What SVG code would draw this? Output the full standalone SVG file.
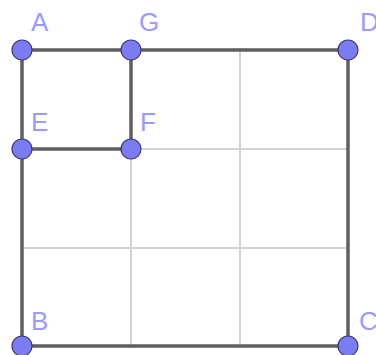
<svg xmlns="http://www.w3.org/2000/svg" width="376" height="355" viewBox="0 0 376 355">
<style>
.grid{stroke:#d3d3d3;stroke-width:2;fill:none}
.edge{stroke:#5f5f5f;stroke-width:3.5;fill:none;stroke-linecap:round}
.pt{fill:#7b7bf2;stroke:#3a3a7a;stroke-width:1.2}
.lbl{font-family:"Liberation Sans",Arial,sans-serif;font-size:26px;fill:#9a9aff}
</style>
<rect width="376" height="355" fill="#fff"/>
<g id="grid">
<line class="grid" x1="131" y1="50" x2="131" y2="346"/>
<line class="grid" x1="240" y1="50" x2="240" y2="346"/>
<line class="grid" x1="22" y1="149" x2="348" y2="149"/>
<line class="grid" x1="22" y1="248" x2="348" y2="248"/>
</g>
<g id="connectors">
<line class="edge" x1="22" y1="50" x2="348" y2="50"/>
<line class="edge" x1="22" y1="50" x2="22" y2="346"/>
<line class="edge" x1="22" y1="346" x2="348" y2="346"/>
<line class="edge" x1="348" y1="50" x2="348" y2="346"/>
<line class="edge" x1="131" y1="50" x2="131" y2="149"/>
<line class="edge" x1="22" y1="149" x2="131" y2="149"/>
</g>
<g id="A"><circle class="pt" cx="22" cy="50" r="10"/><text class="lbl" x="31" y="31">A</text></g>
<g id="G"><circle class="pt" cx="131" cy="50" r="10"/><text class="lbl" x="139" y="31">G</text></g>
<g id="D"><circle class="pt" cx="348" cy="50" r="10"/><text class="lbl" x="360" y="31">D</text></g>
<g id="E"><circle class="pt" cx="22" cy="149" r="10"/><text class="lbl" x="31" y="131">E</text></g>
<g id="F"><circle class="pt" cx="131" cy="149" r="10"/><text class="lbl" x="140" y="131">F</text></g>
<g id="B"><circle class="pt" cx="22" cy="346" r="10"/><text class="lbl" x="31" y="330">B</text></g>
<g id="C"><circle class="pt" cx="348" cy="346" r="10"/><text class="lbl" x="359" y="330">C</text></g>
</svg>
